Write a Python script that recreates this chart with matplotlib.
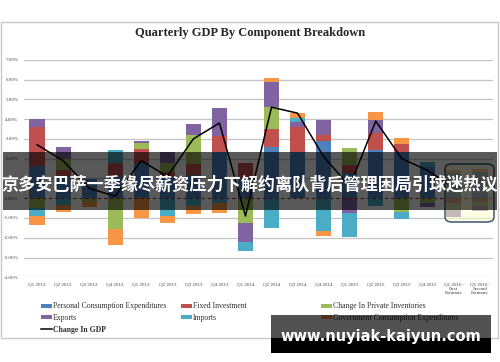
import numpy as np
import matplotlib
matplotlib.use("Agg")
import matplotlib.pyplot as plt
from matplotlib.patches import Rectangle, FancyBboxPatch

quarters = ["Q1 2012", "Q2 2012", "Q3 2012", "Q4 2012", "Q1 2013", "Q2 2013",
            "Q3 2013", "Q4 2013", "Q1 2014", "Q2 2014", "Q3 2014", "Q4 2014",
            "Q1 2015", "Q2 2015", "Q3 2015", "Q4 2015",
            "Q1 2016 -\nFirst\nEstimate", "Q1 2016 -\nSecond\nEstimate"]

pce     = [1.65, 1.09, 0.98, 1.08, 1.77, 1.01, 1.18, 2.36, 0.95, 2.60, 2.34, 2.87, 1.27, 2.45, 2.36, 1.60, 1.27, 1.32]
fixed   = [1.97, 0.34, 0.00, 0.71, 0.72, 0.33, 0.56, 0.76, 0.82, 0.88, 1.28, 0.34, 0.42, 0.84, 0.39, 0.00, -0.25, -0.17]
invent  = [-0.50, 0.54, -0.17, -1.57, 0.29, 0.43, 1.47, 0.00, -1.27, 1.13, 0.00, 0.00, 0.87, 0.00, -0.70, -0.22, -0.35, -0.25]
exports = [0.37, 0.61, 0.00, 0.00, 0.12, 0.59, 0.56, 1.44, -0.93, 1.27, 0.25, 0.76, -0.76, 0.64, 0.00, -0.23, -0.33, -0.25]
imports = [-0.40, -0.35, 0.00, 0.66, 0.00, -0.90, -0.42, -0.25, -0.47, -1.52, 0.17, -1.64, -1.18, -0.42, -0.37, 0.25, 0.00, 0.00]
govt    = [-0.45, -0.35, -0.30, -0.79, -1.01, -0.37, -0.37, -0.51, 0.00, 0.20, 0.25, -0.27, 0.00, 0.43, 0.28, 0.00, 0.17, 0.17]
gdp     = [2.7, 1.9, 0.5, 0.1, 1.9, 1.1, 3.0, 3.8, -0.9, 4.6, 4.3, 2.1, 0.6, 3.9, 2.0, 1.4, 0.5, 0.8]

series_names = ["Personal Consumption Expenditures", "Fixed Investment",
                "Change In Private Inventories", "Exports", "Imports",
                "Government Consumption Expenditures"]
series_vals = [pce, fixed, invent, exports, imports, govt]
colors = ["#4F81BD", "#C0504D", "#9BBB59", "#8064A2", "#4BACC6", "#F79646"]

serif = ["Liberation Serif", "DejaVu Serif"]

fig = plt.figure(figsize=(5.0, 3.62), dpi=100)
W, H = 500.0, 362.0

def fx(px):
    return px / W

def fy(py):
    return 1 - py / H

# outer chart frame
fig.patches.append(Rectangle((fx(1), fy(338)), fx(497), (338 - 22) / H,
                             transform=fig.transFigure, fill=False,
                             edgecolor="#C8C8C8", lw=1.0, zorder=0))

ax = fig.add_axes([fx(24), fy(277.3), fx(493) - fx(24), (277.3 - 59.75) / H])
x = np.arange(len(quarters))
pos_bot = np.zeros(len(quarters))
neg_bot = np.zeros(len(quarters))
bars = []
for name, vals, c in zip(series_names, series_vals, colors):
    v = np.array(vals, dtype=float)
    bottom = np.where(v >= 0, pos_bot, neg_bot)
    b = ax.bar(x, v, width=0.58, bottom=bottom, color=c, label=name, zorder=3)
    bars.append(b)
    pos_bot = pos_bot + np.where(v > 0, v, 0)
    neg_bot = neg_bot + np.where(v < 0, v, 0)

line, = ax.plot(x, gdp, color="black", lw=1.1, zorder=5, label="Change In GDP")

ax.set_xlim(-0.5, len(quarters) - 0.5)
ax.set_ylim(-4, 7)
yt = np.arange(-4, 8)
ax.set_yticks(yt)
ax.set_yticklabels(["%.2f%%" % v for v in yt], fontsize=3.6, family=serif, color="#404040")
ax.set_xticks(x)
ax.set_xticklabels(quarters, fontsize=3.6, family=serif, color="#404040", linespacing=1.1,
                   va="top")
ax.tick_params(length=0, pad=4)
for s in ax.spines.values():
    s.set_visible(False)
for v in yt:
    if v == 0:
        continue
    ax.axhline(v, color="#C4C4C4", lw=0.9, zorder=1)
ax.axhline(0, color="#8B3030", lw=0.8, ls=(0, (3, 2.5)), zorder=4)
ax.set_facecolor("none")

fig.text(0.5, fy(33), "Quarterly GDP By Component Breakdown", ha="center", va="center",
         fontsize=9, fontweight="bold", family=serif, color="#262626")

# legends
leg_kw = dict(loc="upper left", frameon=False, handlelength=1.35,
              handleheight=0.45, handletextpad=0.2, labelspacing=0.45,
              borderaxespad=0, borderpad=0, prop={"family": serif, "size": 5.6})
l1 = fig.legend(handles=[bars[0], bars[3], line], labels=[series_names[0], series_names[3], "Change In GDP"],
                bbox_to_anchor=(fx(41), fy(302.5)), **leg_kw)
for t in l1.get_texts():
    t.set_color("#303030")
l1.get_texts()[2].set_fontweight("bold")
l2 = fig.legend(handles=[bars[1], bars[4]], labels=[series_names[1], series_names[4]],
                bbox_to_anchor=(fx(181), fy(302.5)), **leg_kw)
l3 = fig.legend(handles=[bars[2], bars[5]], labels=[series_names[2], series_names[5]],
                bbox_to_anchor=(fx(321), fy(302.5)), **leg_kw)
for lg in (l2, l3):
    for t in lg.get_texts():
        t.set_color("#303030")

# highlight box around the last two bars
fig.patches.append(FancyBboxPatch((fx(445), fy(222)), fx(49), (222 - 164) / H,
                                  boxstyle="round,pad=0,rounding_size=0.014",
                                  transform=fig.transFigure, facecolor=(1, 1, 0.82, 0.55),
                                  edgecolor="#3E5670", lw=1.1, zorder=6))

# dark banner with headline
fig.patches.append(Rectangle((fx(3), fy(210)), fx(494), (210 - 152) / H,
                             transform=fig.transFigure, facecolor=(0, 0, 0, 0.65),
                             edgecolor="none", zorder=8))
fig.text(0.5, fy(185), "京多安巴萨一季缘尽薪资压力下解约离队背后管理困局引球迷热议",
         ha="center", va="center", fontsize=12.3, fontweight="bold", color="white",
         family=["Noto Sans CJK SC", "DejaVu Sans"], zorder=9)

# watermark
fig.patches.append(Rectangle((fx(271), fy(338)), fx(220), (338 - 315) / H,
                             transform=fig.transFigure, facecolor=(0, 0, 0, 0.68),
                             edgecolor="none", zorder=8))
fig.patches.append(Rectangle((fx(271), fy(353)), fx(220), (353 - 338) / H,
                             transform=fig.transFigure, facecolor="black",
                             edgecolor="none", zorder=8))
fig.text(fx(381), fy(336), "www.nuyiak-kaiyun.com", ha="center", va="center",
         fontsize=10.5, fontweight="bold", color="white", family=["DejaVu Sans"], zorder=9)

fig.savefig("out.png", dpi=100)
